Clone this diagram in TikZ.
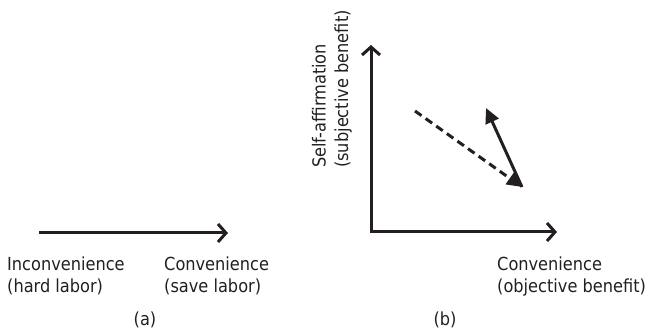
\documentclass[tikz,border=0pt]{standalone}
\usepackage{fontspec}
\setmainfont{DejaVu Sans Condensed}
\usetikzlibrary{arrows.meta}
\definecolor{inkgray}{RGB}{35,31,32}
\begin{document}
\begin{tikzpicture}[x=1pt, y=-1pt, font=\fontsize{18}{22.5}\selectfont,
		lbl/.style={inner sep=0pt, align=left, text=inkgray},
		axis/.style={inkgray, line width=3pt, line join=miter, -{Straight Barb[length=8pt,width=18pt]}},
		move/.style={inkgray, line width=3pt, -{Triangle[length=15pt,width=14pt]}}]
		\useasboundingbox (0,0) rectangle (651,336);
		% (a) one axis
		\coordinate (alo) at (39,233);
		\coordinate (ahi) at (228,233);
		\draw[axis] (alo) -- (ahi);
		\node[lbl, anchor=base west] (inconv) at (7,293) {Inconvenience\\(hard labor)};
		\node[lbl, anchor=base west] (conva) at (164,293) {Convenience\\(save labor)};
		\node[lbl, anchor=base] (capa) at (145,326) {(a)};
		% (b) two axes
		\coordinate (ytop) at (371,45);
		\coordinate (orig) at (371,232);
		\coordinate (xend) at (557,232);
		\draw[axis, {Straight Barb[length=8pt,width=18pt]}-{Straight Barb[length=8pt,width=18pt]}] (ytop) -- (orig) -- (xend);
		\coordinate (dstart) at (415,111);
		\coordinate (dend) at (522,187);
		\coordinate (send) at (486,108);
		\draw[move, dash pattern=on 8pt off 5pt] (dstart) -- (dend);
		\draw[move] (dend) -- (send);
		\node[lbl, anchor=base west, rotate=90] (selfaff) at (348,168) {Self-affirmation\\(subjective benefit)};
		\node[lbl, anchor=base west] (convb) at (497,293) {Convenience\\(objective benefit)};
		\node[lbl, anchor=base] (capb) at (445,326) {(b)};
	\end{tikzpicture}
\end{document}
